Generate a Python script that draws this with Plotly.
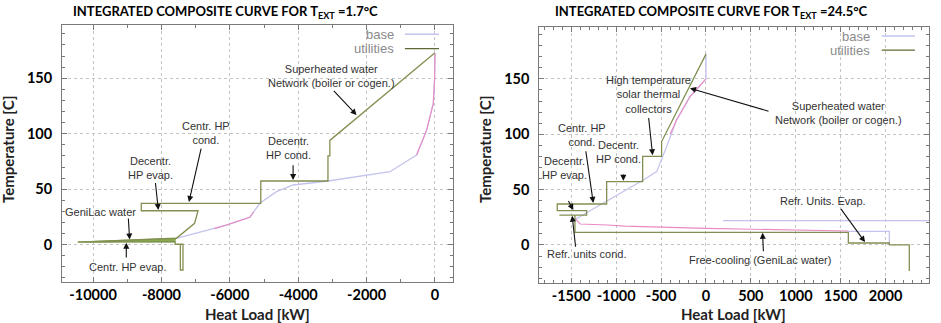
import plotly.graph_objects as go

# ---------------- data ----------------
# Left panel: T_ext = 1.7 C
left_util_x = [0, -3075, -3075, -3130, -3130, -5095, -5095, -8590, -8590, -6930, -7030, -7564, -10445, -7600, -7600, -7370, -7370, -7447, -7447]
left_util_y = [173, 94, 80, 80, 57.4, 57.4, 37.3, 37.3, 30.6, 30.6, 19.3, 5.8, 2.4, 2.7, 0.4, 0.4, -22.8, -22.8, 0.4]
left_geni_x = [-7564, -10445, -7600]
left_geni_y = [5.8, 2.4, 2.7]
left_base_x = [0, -10, -49, -244, -537, -1318, -3124, -4150, -4636, -5124, -5417, -6100, -7564]
left_base_y = [172.4, 150, 127.4, 103.3, 80.8, 65.8, 57.4, 53.8, 47.8, 37.3, 24.7, 17.7, 5.8]
left_pink1_x = [0, -10, -49, -244, -537]
left_pink1_y = [172.4, 150, 127.4, 103.3, 80.8]
left_pink2_x = [-5300, -5417, -6100, -6450]
left_pink2_y = [29.5, 24.7, 17.7, 14.5]

# Right panel: T_ext = 24.5 C
right_util_x = [0, -494, -494, -705, -705, -1106, -1106, -1656, -1656, -1329, -1329, -1633, None,
                -1459, -1459, 1585, 1585, 2042, 2042, 2264, 2264]
right_util_y = [172.3, 93.4, 80, 80, 57.2, 57.2, 37, 37, 31, 31, 27, 27, None,
                27, 11.4, 11.4, 1.8, 1.8, 0, 0, -23.5]
right_base_x = [0, 0, -178, -326, -438, -493, -549, -698, -958, -1217, -1440, -1459, None,
                1585, 2042, 2042, None, 190, 2490]
right_base_y = [172.3, 150, 134, 113, 88.8, 76.8, 66.2, 58.7, 46.7, 34.6, 24.1, 23, None,
                12.2, 12.2, 1.8, None, 22, 22]
right_pink_x = [0, -178, -326, -400, None, -1459, -1400, -1100, -900, 0, 1000, 1585]
right_pink_y = [150, 134, 113, 100, None, 24, 19, 18, 17, 15, 13.5, 12.6]

left_xticks = [-10000, -8000, -6000, -4000, -2000, 0]
right_xticks = [-1500, -1000, -500, 0, 500, 1000, 1500, 2000, 2500]
y_ticks = [0, 50, 100, 150]

# annotations: (text, text_x, text_y, arrow_tail_x, arrow_tail_y, head_x, head_y)
left_notes = [
    ("Superheated water<br>Network (boiler or cogen.)", -3025, 152, -3000, 140, -2293, 116.8),
    ("Centr. HP<br>cond.", -6706, 101, -6830, 88, -7195, 38.5),
    ("Decentr.<br>HP evap.", -8316, 69, -8180, 57, -8091, 31.3),
    ("Decentr.<br>HP cond.", -4296, 86.8, -4150, 73, -4150, 58.2),
    ("GeniLac water", -9780, 29.5, -8970, 25, -8931, 4.6),
    ("Centr. HP evap.", -8981, -19.8, -9028, -13, -9028, 1.8),
]
right_notes = [
    ("High temperature<br>solar thermal<br>collectors", -642, 136, -640, 116, -594, 81),
    ("Superheated water<br>Network (boiler or cogen.)", 1473, 119, 713, 120.4, -178, 141.5),
    ("Centr. HP<br>cond.", -1384, 99.4, -1340, 86, -1255, 38),
    ("Decentr.<br>HP cond.", -976, 84.3, -920, 65, -920, 58),
    ("Decentr.<br>HP evap.", -1570, 69.8, -1540, 41, -1477, 31.5),
    ("Refr. units cond.", -1329, -8.4, -1450, -3, -1490, 26.5),
    ("Free-cooling (GeniLac water)", 601, -13.5, 640, -7, 630, 11),
    ("Refr. Units. Evap.", 1306, 39.7, 1490, 34, 1771, 2.6),
]

# ---------------- styling ----------------
UTIL = "#818f52"
BASE = "#c3c3ee"
PINK = "#e98ac4"
GENI = "#86ad4c"
FRAME = "#7a7a7a"
TICKFONT = dict(family="Lato", size=14.5, color="black", weight="bold")
NOTEFONT = dict(family="Liberation Sans", size=11, color="#333333")

fig = go.Figure()

def add_panel(xa, ya, base_x, base_y, pink_sets, util_x, util_y, extra=None):
    fig.add_trace(go.Scatter(x=base_x, y=base_y, mode="lines", line=dict(color=BASE, width=1.3),
                             xaxis=xa, yaxis=ya, showlegend=False, hoverinfo="skip"))
    for px, py in pink_sets:
        fig.add_trace(go.Scatter(x=px, y=py, mode="lines", line=dict(color=PINK, width=1.1),
                                 xaxis=xa, yaxis=ya, showlegend=False, hoverinfo="skip"))
    if extra is not None:
        fig.add_trace(go.Scatter(x=extra[0], y=extra[1], mode="lines", fill="toself",
                                 fillcolor=GENI, line=dict(color=GENI, width=1.1),
                                 xaxis=xa, yaxis=ya, showlegend=False, hoverinfo="skip"))
    fig.add_trace(go.Scatter(x=util_x, y=util_y, mode="lines", line=dict(color=UTIL, width=1.3),
                             xaxis=xa, yaxis=ya, showlegend=False, hoverinfo="skip"))

add_panel("x", "y", left_base_x, left_base_y,
          [(left_pink1_x, left_pink1_y), (left_pink2_x, left_pink2_y)],
          left_util_x, left_util_y, extra=(left_geni_x, left_geni_y))
add_panel("x2", "y2", right_base_x, right_base_y,
          [(right_pink_x, right_pink_y)], right_util_x, right_util_y)

def axis_common():
    return dict(showgrid=True, gridcolor="#c4c4c4", griddash="dot", gridwidth=1, automargin=False,
                zeroline=False, showline=True, linecolor=FRAME, linewidth=1, mirror="ticks",
                ticks="inside", ticklen=5, tickcolor=FRAME, tickfont=TICKFONT)

xl = axis_common(); xl.update(domain=[0.0659, 0.4814], range=[-10908, 527], tickvals=left_xticks,
                               ticktext=[str(v) for v in left_xticks],
                               anchor="y", minor=dict(ticks="inside", ticklen=3, dtick=1000, tickcolor=FRAME))
yl = axis_common(); yl.update(domain=[0.127, 0.9226], range=[-33.6, 198], tickvals=y_ticks, anchor="x",
                               ticktext=[str(v) for v in y_ticks],
                               ticklabelstandoff=6, minor=dict(ticks="inside", ticklen=3, dtick=10, tickcolor=FRAME))
xr = axis_common(); xr.update(domain=[0.5731, 0.9876], range=[-1856, 2487], tickvals=right_xticks,
                               ticktext=[str(v) for v in right_xticks],
                               anchor="y2", minor=dict(ticks="inside", ticklen=3, dtick=100, tickcolor=FRAME))
yr = axis_common(); yr.update(domain=[0.125, 0.917], range=[-34, 197], tickvals=y_ticks, anchor="x2",
                               ticktext=[str(v) for v in y_ticks],
                               ticklabelstandoff=6, minor=dict(ticks="inside", ticklen=3, dtick=10, tickcolor=FRAME))

annotations = []
for notes, xr_, yr_ in [(left_notes, "x", "y"), (right_notes, "x2", "y2")]:
    for text, tx, ty, ax, ay, hx, hy in notes:
        annotations.append(dict(x=tx, y=ty, xref=xr_, yref=yr_, text=text, showarrow=False,
                                font=NOTEFONT, align="center"))
        annotations.append(dict(x=hx, y=hy, xref=xr_, yref=yr_, ax=ax, ay=ay, axref=xr_, ayref=yr_,
                                text="", showarrow=True, arrowhead=2, arrowsize=1.1, arrowwidth=1.1,
                                arrowcolor="#111111"))

TITLEFONT = dict(family="Lato", size=13, color="black", weight="bold")
annotations += [
    dict(x=225/941, y=1-1/323, xref="paper", yref="paper", showarrow=False, font=TITLEFONT,
         xanchor="center", yanchor="top",
         text="INTEGRATED COMPOSITE CURVE FOR T<sub>EXT</sub> =1.7°C"),
    dict(x=711/941, y=1-1/323, xref="paper", yref="paper", showarrow=False, font=TITLEFONT,
         xanchor="center", yanchor="top",
         text="INTEGRATED COMPOSITE CURVE FOR T<sub>EXT</sub> =24.5°C"),
]
AXFONT = dict(family="Lato", size=15, color="#222222", weight="bold")
annotations += [
    dict(x=257/941, y=1-314/323, xref="paper", yref="paper", showarrow=False, font=AXFONT,
         xanchor="center", yanchor="middle", text="Heat Load [kW]"),
    dict(x=733/941, y=1-314/323, xref="paper", yref="paper", showarrow=False, font=AXFONT,
         xanchor="center", yanchor="middle", text="Heat Load [kW]"),
    dict(x=8/941, y=1-150/323, xref="paper", yref="paper", showarrow=False, font=AXFONT,
         xanchor="center", yanchor="middle", text="Temperature [C]", textangle=-90),
    dict(x=485/941, y=1-150/323, xref="paper", yref="paper", showarrow=False, font=AXFONT,
         xanchor="center", yanchor="middle", text="Temperature [C]", textangle=-90),
]

# gnuplot-style key: text then line sample
LEGFONT = dict(family="Liberation Sans", size=13, color="#8a8a8a")
shapes = []
for xd, yd, txr, lx0, lx1, yb, yu in [("x domain", "y domain", 0.855, 0.877, 0.964, 0.964, 0.908),
                                       ("x2 domain", "y2 domain", 0.853, 0.878, 0.963, 0.964, 0.909)]:
    for label, col, yy in [("base", BASE, yb), ("utilities", "#5d6a33", yu)]:
        annotations.append(dict(x=txr, y=yy, xref=xd, yref=yd, text=label, showarrow=False,
                                xanchor="right", yanchor="middle", font=LEGFONT))
        shapes.append(dict(type="line", xref=xd, yref=yd, x0=lx0, x1=lx1, y0=yy, y1=yy,
                           line=dict(color=col, width=1.4)))

fig.update_layout(
    width=941, height=323, margin=dict(l=0, r=0, t=0, b=0, autoexpand=False),
    paper_bgcolor="white", plot_bgcolor="white",
    xaxis=xl, yaxis=yl, xaxis2=xr, yaxis2=yr,
    annotations=annotations, shapes=shapes, showlegend=False,
)

fig.write_html("out.html", config={"displayModeBar": False},
               post_script="document.body.style.margin='0';document.body.style.padding='0';")
